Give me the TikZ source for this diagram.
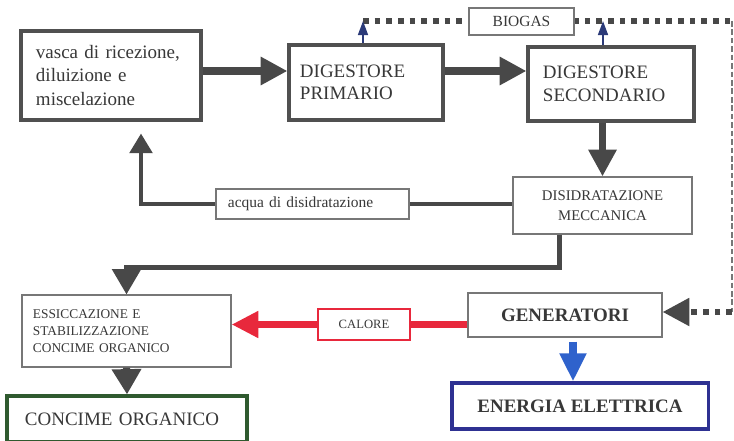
\documentclass[tikz,border=0pt]{standalone}
\usepackage{fontspec}
\setmainfont{Liberation Serif}
\usetikzlibrary{arrows.meta,calc}
\definecolor{linegray}{HTML}{484848}
\definecolor{boxgray}{HTML}{505050}
\definecolor{thingray}{HTML}{777777}
\definecolor{textgray}{HTML}{383838}
\definecolor{calred}{HTML}{E8283C}
\definecolor{elblue}{HTML}{2F62CC}
\definecolor{navyline}{HTML}{2E3192}
\definecolor{darkgreen}{HTML}{2F5A2F}
\definecolor{gasblue}{HTML}{2B3A78}
\begin{document}
\begin{tikzpicture}[x=0.025cm,y=-0.025cm,
    thick box/.style={draw=boxgray,line width=2.2pt,fill=white,text=textgray},
    thin box/.style={draw=thingray,line width=0.8pt,fill=white,text=textgray},
    flow/.style={draw=linegray,line width=5pt,-{Triangle[length=19pt,width=19pt]}},
    gas/.style={draw=linegray,line width=4.2pt,dash pattern=on 4pt off 4.3pt},
    gas arrow/.style={draw=gasblue,line width=1.5pt,-{Triangle[length=10pt,width=7pt]}}]
                \useasboundingbox (0,0) rectangle (734,440);

                \coordinate (gas1) at (363,21);
                \coordinate (gas2) at (732,21);
                \coordinate (gas3) at (732,312);
                \coordinate (tap2) at (603,21);
                \coordinate (row1) at (0,71);

                \draw[gas] (gas1) -- (gas2);
                \draw[draw=thingray,line width=1.2pt,dash pattern=on 4pt off 2pt] (gas2) -- (gas3);

                \node[thick box,text width=3.75cm,inner xsep=0.375cm,minimum height=2.225cm,align=left,font=\fontsize{13.5}{16.5}\selectfont] at (111,75.5) (vasca) {vasca di ricezione,\\ diluizione e\\ miscelazione};
                \node[thick box,text width=3.3cm,inner xsep=0.275cm,minimum height=1.875cm,align=left,font=\fontsize{13.5}{16}\selectfont] at (366,82.5) (prim) {DIGESTORE\\ PRIMARIO};
                \node[thick box,text width=3.4cm,inner xsep=0.375cm,minimum height=1.85cm,align=left,font=\fontsize{13.5}{16}\selectfont] at (611,84) (sec) {DIGESTORE\\ SECONDARIO};
                \node[thin box,minimum width=2.625cm,minimum height=0.675cm,font=\fontsize{11}{13}\selectfont] at (521.5,21.5) (biogas) {BIOGAS};
                \node[thin box,minimum width=4.475cm,minimum height=1.425cm,align=center,font=\fontsize{10.5}{14}\selectfont] at (602.5,205.5) (dis) {DISIDRATAZIONE\\ MECCANICA};
                \node[thin box,text width=4.225cm,inner xsep=0.3cm,minimum height=0.75cm,align=left,font=\fontsize{11}{13}\selectfont] at (312.5,204) (acqua) {acqua di disidratazione};
                \node[thin box,text width=4.675cm,inner xsep=0.275cm,minimum height=1.8cm,align=left,font=\fontsize{9.5}{12}\selectfont] at (126.5,331) (ess) {ESSICCAZIONE E\\ STABILIZZAZIONE\\ CONCIME ORGANICO};
                \node[thin box,minimum width=4.85cm,minimum height=1.1cm,font=\fontsize{13.5}{16}\selectfont\bfseries] at (565,315) (gen) {GENERATORI};
                \node[draw=calred,line width=2pt,fill=white,text=textgray,minimum width=2.3cm,minimum height=0.775cm,font=\fontsize{9}{11}\selectfont] at (364,324.5) (calore) {CALORE};
                \node[draw=navyline,line width=2.2pt,fill=white,text=textgray,minimum width=6.4cm,minimum height=1.15cm,font=\fontsize{13.5}{16}\selectfont\bfseries] at (580,406) (energia) {ENERGIA ELETTRICA};
                \node[draw=darkgreen,line width=2.2pt,fill=white,text=textgray,text width=5.1cm,inner xsep=0.45cm,minimum height=1.15cm,align=left,font=\fontsize{13.5}{16}\selectfont] at (127,419) (concime) {CONCIME ORGANICO};

                \draw[flow] (vasca.east |- row1) -- (prim.west |- row1);
                \draw[flow] (prim.east |- row1) -- (sec.west |- row1);
                \draw[flow] (sec.south -| dis.north) -- (dis.north);
                \draw[flow,-{Triangle[length=18pt,width=20pt]}] (ess.south) -- (concime.north);
                \draw[draw=linegray,line width=3pt] (dis.west |- acqua.east) -- (acqua.east);
                \draw[draw=linegray,line width=3pt,-{Triangle[length=14pt,width=16pt]},shorten >=8.5pt] (acqua.west) -| ($(vasca.south)+(30,0)$);
                \draw[draw=linegray,line width=3.5pt,-{Triangle[length=18pt,width=20pt]}] ($(dis.south)+(-43,0)$) -- ++(0,33) -| (ess.north);

                \draw[draw=calred,line width=5.5pt] (gen.west |- calore.east) -- (calore.east);
                \draw[draw=calred,line width=5.5pt,-{Triangle[length=19pt,width=18pt]}] (calore.west) -- (ess.east |- calore.west);
                \draw[draw=elblue,line width=5.5pt,-{Triangle[length=20pt,width=18pt]}] ($(gen.south)+(8,4)$) -- ($(energia.north)+(-7,0)$);

                \draw[gas,-{Triangle[length=19pt,width=19pt]}] (gas3) -- (gen.east |- gas3);
                \draw[gas arrow] ($(prim.north)+(-3,0)$) -- (gas1);
                \draw[gas arrow] ($(sec.north)+(-8,0)$) -- (tap2);
            \end{tikzpicture}
\end{document}
